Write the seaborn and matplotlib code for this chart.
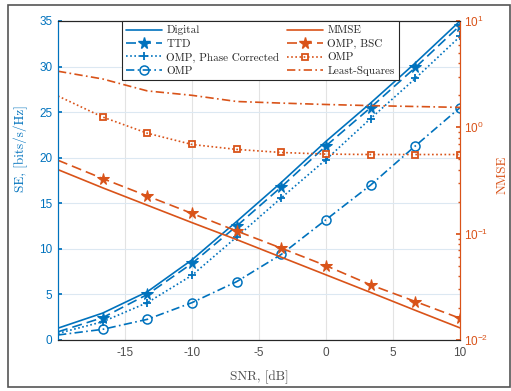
import matplotlib
matplotlib.use("Agg")
import matplotlib.pyplot as plt
import seaborn as sns
import pandas as pd
import numpy as np
from matplotlib.patches import Rectangle
from matplotlib.lines import Line2D

# ---- data ----
snr = [-20, -16.67, -13.33, -10, -6.67, -3.33, 0, 3.33, 6.67, 10]
se_digital = [1.3, 2.95, 5.3, 8.8, 13.0, 17.3, 21.8, 26.0, 30.4, 35.0]
se_ttd = [0.9, 2.45, 5.0, 8.4, 12.5, 16.8, 21.3, 25.5, 29.9, 34.5]
se_phase = [0.73, 2.0, 4.1, 7.1, 11.3, 15.6, 19.8, 24.3, 28.7, 33.3]
se_omp = [0.55, 1.17, 2.27, 4.1, 6.4, 9.4, 13.2, 17.0, 21.3, 25.5]

nmse_mmse = [0.40, 0.27, 0.185, 0.127, 0.088, 0.060, 0.041, 0.028, 0.019, 0.013]
nmse_bsc = [0.49, 0.33, 0.226, 0.155, 0.106, 0.073, 0.050, 0.033, 0.023, 0.016]
nmse_omp = [1.97, 1.25, 0.88, 0.69, 0.62, 0.58, 0.56, 0.555, 0.555, 0.555]
nmse_ls = [3.37, 2.85, 2.2, 2.0, 1.75, 1.69, 1.64, 1.60, 1.57, 1.54]

x_ticks = [-15, -10, -5, 0, 5, 10]
se_ticks = [0, 5, 10, 15, 20, 25, 30, 35]

BLUE = "#0072BD"
ORANGE = "#D95319"
GRAY = "#4D4D4D"

sns.set_theme(style="white")
plt.rcParams["font.family"] = ["Liberation Sans", "DejaVu Sans"]
plt.rcParams["mathtext.fontset"] = "custom"
plt.rcParams["mathtext.rm"] = "Liberation Sans"
plt.rcParams["axes.unicode_minus"] = False

fig = plt.figure(figsize=(5.11, 3.91), dpi=100)
W, H = 511, 391
L, R, T, B = 58, 460, 21, 340
ax = fig.add_axes([L / W, 1 - B / H, (R - L) / W, (B - T) / H])
ax2 = ax.twinx()

df = pd.DataFrame({"snr": snr, "digital": se_digital, "ttd": se_ttd,
                   "phase": se_phase, "omp": se_omp, "mmse": nmse_mmse,
                   "bsc": nmse_bsc, "ompn": nmse_omp, "ls": nmse_ls})

lw = 1.2
me = slice(1, None)
STAR = 8.5
PLUS = 6
CIRC = 6.5
SQ = 5
sns.lineplot(data=df, x="snr", y="digital", ax=ax, color=BLUE, lw=lw, linestyle="-")
sns.lineplot(data=df, x="snr", y="ttd", ax=ax, color=BLUE, lw=lw, linestyle=(0, (6, 3)),
             marker="*", markersize=STAR, markevery=me, markeredgecolor=BLUE, markerfacecolor=BLUE)
sns.lineplot(data=df, x="snr", y="phase", ax=ax, color=BLUE, lw=lw, linestyle=(0, (1, 1.5)),
             marker="+", markersize=PLUS, markevery=me, markeredgecolor=BLUE, markeredgewidth=1.3)
sns.lineplot(data=df, x="snr", y="omp", ax=ax, color=BLUE, lw=lw, linestyle=(0, (5, 2, 1, 2)),
             marker="o", markersize=CIRC, markevery=me, markeredgecolor=BLUE,
             markerfacecolor="none", markeredgewidth=1.1)

sns.lineplot(data=df, x="snr", y="mmse", ax=ax2, color=ORANGE, lw=lw, linestyle="-")
sns.lineplot(data=df, x="snr", y="bsc", ax=ax2, color=ORANGE, lw=lw, linestyle=(0, (6, 3)),
             marker="*", markersize=STAR, markevery=me, markeredgecolor=ORANGE, markerfacecolor=ORANGE)
sns.lineplot(data=df, x="snr", y="ompn", ax=ax2, color=ORANGE, lw=lw, linestyle=(0, (1, 1.5)),
             marker="s", markersize=SQ, markevery=me, markeredgecolor=ORANGE,
             markerfacecolor="none", markeredgewidth=1.3)
sns.lineplot(data=df, x="snr", y="ls", ax=ax2, color=ORANGE, lw=lw, linestyle=(0, (5, 2, 1, 2)))

ax.set_xlim(-20, 10)
ax.set_ylim(0, 35)
ax.set_xticks(x_ticks)
ax.set_yticks(se_ticks)
ax2.set_yscale("log")
ax2.set_ylim(1e-2, 1e1)

ax.grid(True, axis="x", color="#E3E3E3", lw=0.8)
ax.grid(True, axis="y", color="#DCE8F2", lw=0.8)
ax.set_axisbelow(True)

ax.tick_params(axis="x", direction="in", colors=GRAY, labelsize=8.5, length=3, pad=5,
               labelcolor=GRAY, top=False)
ax.tick_params(axis="y", direction="in", colors=BLUE, labelsize=8.5, length=3, pad=4)
ax2.tick_params(axis="y", which="major", direction="in", colors=ORANGE, labelsize=8.5, length=3, pad=3)
ax2.tick_params(axis="y", which="minor", direction="in", colors=ORANGE, length=1.8)

for a in (ax, ax2):
    a.spines["top"].set_color("#262626")
    a.spines["bottom"].set_color("#262626")
    a.spines["left"].set_color(BLUE)
    a.spines["right"].set_color(ORANGE)
    for s in a.spines.values():
        s.set_linewidth(0.8)

serif = "cmr10"
ax.set_xlabel("SNR, [dB]", fontfamily=serif, fontsize=9.5, color=GRAY)
ax.set_ylabel("SE, [bits/s/Hz]", fontfamily=serif, fontsize=9.5, color=BLUE)
ax2.set_ylabel("NMSE", fontfamily=serif, fontsize=9.5, color=ORANGE)
ax.xaxis.set_label_coords(0.5, -0.095)
ax.yaxis.set_label_coords(-0.075, 0.6)
ax2.yaxis.set_label_coords(1.09, 0.517)

handles = [
    Line2D([], [], color=BLUE, lw=lw, ls="-"),
    Line2D([], [], color=BLUE, lw=lw, ls=(0, (6, 3)), marker="*", markersize=STAR),
    Line2D([], [], color=BLUE, lw=lw, ls=(0, (1, 1.5)), marker="+", markersize=PLUS, markeredgewidth=1.3),
    Line2D([], [], color=BLUE, lw=lw, ls=(0, (5, 2, 1, 2)), marker="o", markersize=CIRC,
           markerfacecolor="none", markeredgewidth=1.1),
    Line2D([], [], color=ORANGE, lw=lw, ls="-"),
    Line2D([], [], color=ORANGE, lw=lw, ls=(0, (6, 3)), marker="*", markersize=STAR),
    Line2D([], [], color=ORANGE, lw=lw, ls=(0, (1, 1.5)), marker="s", markersize=SQ,
           markerfacecolor="none", markeredgewidth=1.3),
    Line2D([], [], color=ORANGE, lw=lw, ls=(0, (5, 2, 1, 2))),
]
labels = ["Digital", "TTD", "OMP, Phase Corrected", "OMP",
          "MMSE", "OMP, BSC", "OMP", "Least-Squares"]
leg = ax2.legend(handles, labels, ncol=2, loc="upper left",
                 bbox_to_anchor=((122 - L) / (R - L), 1.0),
                 prop={"family": serif, "size": 8}, frameon=True, fancybox=False,
                 edgecolor="#262626", framealpha=1, handlelength=3.2, handletextpad=0.4,
                 columnspacing=0.7, labelspacing=0.32, borderpad=0.4, borderaxespad=0)
leg.get_frame().set_linewidth(0.8)

fig.patches.append(Rectangle((8 / W, 1 - 387 / H), (510 - 8) / W, (387 - 5) / H,
                             transform=fig.transFigure, fill=False,
                             edgecolor="#555555", lw=1.2))

fig.savefig("out.png", dpi=100)
